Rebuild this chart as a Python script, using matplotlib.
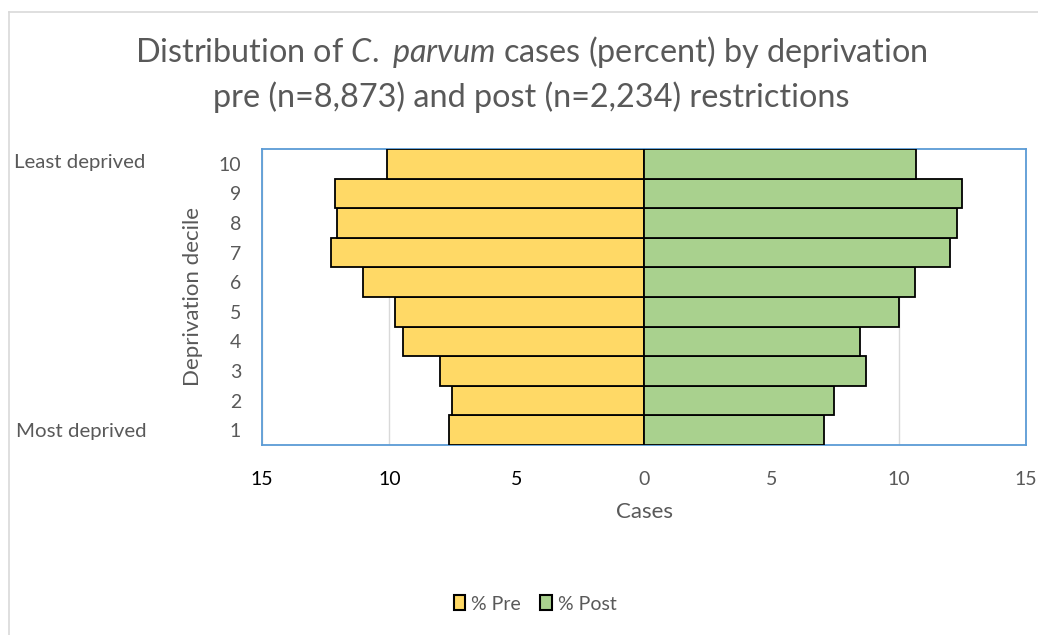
import matplotlib
matplotlib.use("Agg")
import matplotlib.pyplot as plt
from matplotlib.patches import Patch
from matplotlib.lines import Line2D

deciles = [1, 2, 3, 4, 5, 6, 7, 8, 9, 10]
pre_pct = [7.64, 7.53, 8.02, 9.46, 9.78, 11.05, 12.30, 12.07, 12.13, 10.09]
post_pct = [7.07, 7.46, 8.72, 8.49, 10.01, 10.64, 12.03, 12.30, 12.47, 10.68]
xticks = [-15, -10, -5, 0, 5, 10, 15]
xticklabels = ["15", "10", "5", "0", "5", "10", "15"]

plt.rcParams['font.family'] = ['Lato', 'DejaVu Sans']
plt.rcParams['mathtext.fontset'] = 'custom'
plt.rcParams['mathtext.it'] = 'Lato:italic'
plt.rcParams['mathtext.rm'] = 'Lato'
grey = '#595959'

fig = plt.figure(figsize=(10.38, 6.35), dpi=100)
ax = fig.add_axes([262/1038, 1-445/635, (1026-262)/1038, (445-149)/635])

ax.barh(deciles, [-v for v in pre_pct], height=1.0, color='#FFD966',
        edgecolor='black', linewidth=1.3, zorder=3, label='% Pre')
ax.barh(deciles, post_pct, height=1.0, color='#A9D18E',
        edgecolor='black', linewidth=1.3, zorder=3, label='% Post')

ax.set_xlim(-15, 15)
ax.set_ylim(0.5, 10.5)
ax.set_xticks(xticks)
ax.set_xticklabels(xticklabels)
ax.set_yticks(deciles)
ax.set_yticklabels([str(d) for d in deciles])
ax.grid(axis='x', color='#D9D9D9', linewidth=1, zorder=0)
ax.tick_params(length=0, labelsize=14, colors=grey)
ax.tick_params(axis='y', pad=15)
ax.tick_params(axis='x', pad=19)
for lbl in ax.get_xticklabels()[:3]:
    lbl.set_color('black')
for s in ax.spines.values():
    s.set_color('#5B9BD5')
    s.set_linewidth(1.3)

ax.set_xlabel('Cases', fontsize=16, color=grey, labelpad=10)
ax.set_ylabel('Deprivation decile', fontsize=16, color=grey, labelpad=11)

fig.text(14/1038, 1-162/635, 'Least deprived', fontsize=14.7, color=grey, va='center', ha='left')
fig.text(16/1038, 1-431/635, 'Most deprived', fontsize=14.7, color=grey, va='center', ha='left')

fig.text(531/1038, 1-52/635, r'Distribution of $\mathit{C.}$ $\mathit{parvum}$ cases (percent) by deprivation',
         fontsize=23.3, color=grey, ha='center', va='center')
fig.text(531/1038, 1-97/635, 'pre (n=8,873) and post (n=2,234) restrictions',
         fontsize=23.3, color=grey, ha='center', va='center')

handles = [Patch(facecolor='#FFD966', edgecolor='black', linewidth=1.5),
           Patch(facecolor='#A9D18E', edgecolor='black', linewidth=1.5)]
fig.legend(handles, ['% Pre', '% Post'], loc='center', bbox_to_anchor=(535/1038, 1-604/635),
           ncol=2, frameon=False, fontsize=14, labelcolor=grey,
           handlelength=0.6, handleheight=0.8, handletextpad=0.3, columnspacing=1.0)

fig.add_artist(Line2D([8.5/1038, 8.5/1038], [0, 1-12/635], transform=fig.transFigure,
                      color='#D9D9D9', linewidth=1.2))
fig.add_artist(Line2D([8.5/1038, 1], [1-12/635, 1-12/635], transform=fig.transFigure,
                      color='#D9D9D9', linewidth=1.2))

fig.savefig('out.png', dpi=100)
